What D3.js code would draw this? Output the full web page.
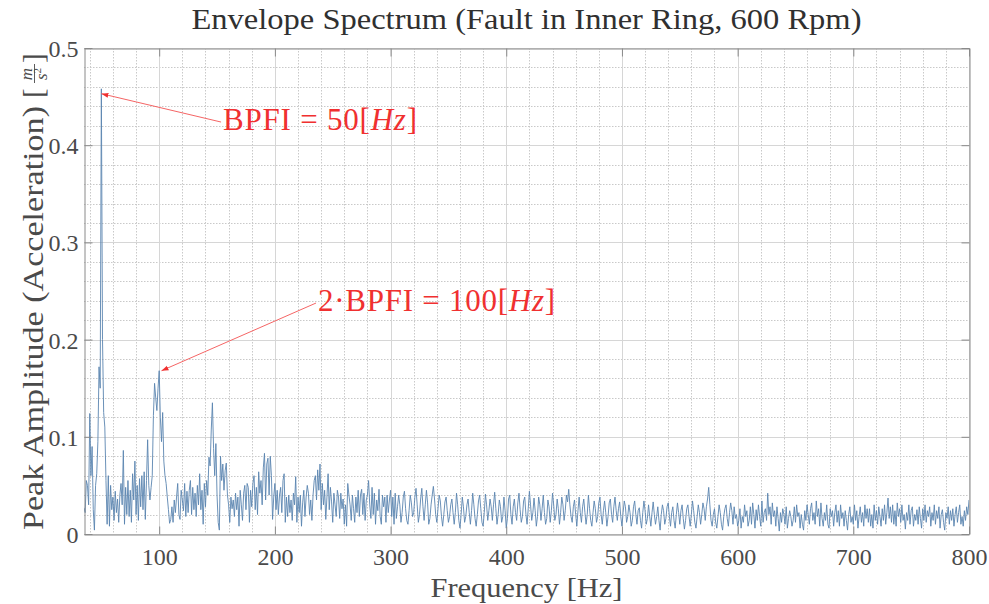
<!DOCTYPE html>
<html><head><meta charset="utf-8">
<script src="https://cdn.jsdelivr.net/npm/d3@7"></script>
<style>body{margin:0;background:#fff} svg{display:block}</style>
</head><body><svg id="c" width="989" height="604"></svg>
<script>
// ---------- data ----------
const title = "Envelope Spectrum (Fault in Inner Ring, 600 Rpm)";
const xLabel = "Frequency [Hz]";
const yLabel = "Peak Amplitude (Acceleration)";
const xTicks = [100, 200, 300, 400, 500, 600, 700, 800];
const xTickLabels = ["100", "200", "300", "400", "500", "600", "700", "800"];
const yTicks = [0, 0.1, 0.2, 0.3, 0.4, 0.5];
const yTickLabels = ["0", "0.1", "0.2", "0.3", "0.4", "0.5"];
const xMinorStep = 20, yMinorStep = 0.02;
const xDomain = [35, 800];
const yDomain = [0, 0.5];
// spectrum: first frequency, spacing (Hz), amplitudes in 1/1000 m/s^2
const freqStart = 35, freqStep = 1;
const amplitudeMilli = [
 27,22,55,50,30,124,60,90,25,4,        // 35
 50,62,95,172,150,458,200,125,110,55,  // 45
 10,60,8,50,25,38,14,44,22,36,         // 55
 12,40,52,30,86,10,48,20,55,18,        // 65
 45,12,62,35,75,20,50,14,57,28,        // 75
 60,25,64,15,55,97,50,35,48,60,        // 85
 122,155,140,127,150,168,120,95,125,75,// 95
 60,52,38,25,11,15,28,12,35,22,        // 105
 38,52,20,15,45,35,24,52,18,44,        // 115
 22,45,55,20,48,25,42,18,50,30,        // 125
 62,25,45,10,52,28,55,40,79,70,        // 135
 107,135,88,60,93,40,12,4,80,55,       // 145
 72,45,65,73,40,30,12,38,26,35,        // 155
 18,42,25,38,8,45,30,14,42,50,         // 165
 25,52,48,12,45,28,52,60,25,48,        // 175
 20,64,42,55,30,68,83,35,72,78,        // 185
 40,80,60,15,38,52,25,45,20,40,        // 195
 48,22,55,62,12,38,18,40,22,35,        // 205
 14,42,30,59,12,38,22,40,8,32,         // 215
 45,18,38,50,42,20,35,14,40,55,        // 225
 60,35,66,45,72,25,52,30,45,15,        // 235
 38,62,25,48,33,12,42,30,18,45,        // 245
 38,16,42,26,36,10,30,8,52,40,         // 255
 30,14,40,26,12,38,22,45,18,40,        // 265
 46,20,42,14,35,40,55,30,16,48,        // 275
 20,42,10,35,24,46,18,10,40,28,        // 285
 38,12,40,22,35,45,18,38,10,42,        // 295
 16,28,40,30,12,22,38,44,26,14,        // 305
 10,24,40,32,18,22,38,47,30,12,        // 315
 20,36,47,28,14,30,45,32,10,16,        // 325
 30,40,49,36,20,12,26,40,34,18,        // 335
 8,20,33,38,24,12,18,30,36,22,         // 345
 10,22,42,30,14,6,20,38,28,12,         // 355
 18,30,36,22,10,24,42,30,16,8,         // 365
 20,34,40,26,12,8,22,41,30,14,         // 375
 24,36,28,14,30,43,26,10,20,35,        // 385
 28,12,18,38,24,6,16,36,40,20,         // 395
 10,28,36,22,14,32,42,25,12,18,        // 405
 34,38,20,10,26,44,30,14,22,37,        // 415
 24,8,18,38,30,14,26,40,22,10,         // 425
 16,35,28,12,24,42,30,14,20,36,        // 435
 26,10,22,38,30,14,24,40,33,46,        // 445
 30,18,12,28,35,20,8,24,38,22,         // 455
 12,28,36,22,10,20,40,26,14,8,         // 465
 22,34,26,12,18,32,38,20,10,24,        // 475
 34,22,8,18,32,36,20,12,28,38,         // 485
 24,14,26,33,18,8,22,34,28,12,         // 495
 18,30,22,8,14,28,34,20,10,24,         // 505
 27,14,6,22,34,24,10,16,30,18,         // 515
 8,22,33,20,10,18,28,14,4,20,          // 525
 30,24,10,16,28,32,18,8,22,28,         // 535
 14,6,20,32,22,10,24,30,16,5,          // 545
 14,26,30,18,8,20,34,24,12,6,          // 555
 18,30,22,10,20,32,26,14,28,36,        // 565
 48,30,14,8,20,26,12,6,18,30,          // 575
 22,10,4,18,26,30,16,8,22,32,          // 585
 24,10,28,16,20,8,14,26,6,18,          // 595
 12,30,18,24,8,14,28,10,32,20,         // 605
 6,25,14,30,18,8,34,12,22,26,          // 615
 14,42,20,28,10,32,18,24,8,28,         // 625
 16,3,22,12,26,20,10,28,6,16,          // 635
 24,18,8,14,28,12,30,18,22,6,          // 645
 20,10,4,24,14,30,20,10,26,32,         // 655
 14,22,10,34,18,26,8,32,16,8,          // 665
 22,14,30,10,6,26,18,24,8,22,          // 675
 30,12,24,8,30,16,22,8,24,14,          // 685
 4,20,28,12,18,10,30,14,24,6,          // 695
 18,28,12,22,8,30,16,26,12,26,         // 705
 8,20,6,30,14,24,10,28,18,8,           // 715
 26,14,30,10,22,37,16,28,12,30,        // 725
 10,24,8,32,18,26,12,30,14,20,         // 735
 5,22,14,30,10,24,28,8,20,14,          // 745
 25,10,28,16,6,26,14,30,12,24,         // 755
 18,28,8,22,14,30,10,24,16,28,         // 765
 6,20,25,12,4,22,16,28,10,24,          // 775
 14,26,8,20,28,12,22,30,10,18,         // 785
 8,24,14,28,20,35                      // 795
];
// annotations: arrow target (freq, amp) and text anchor (freq, amp)
const annFreq = [50, 102];
const annAmp = [0.453, 0.168];
const annTextFreq = [155.2, 237.3];
const annTextAmp = [0.4156, 0.2294];
const annTextPre = ["BPFI = 50", "2\u00B7BPFI = 100"];
const annTextWidth = [194, 237];

// ---------- drawing ----------
const W = 989, H = 604;
const m = {left: 84, right: 20, top: 48, bottom: 70};
const svg = d3.select("#c");
const x = d3.scaleLinear().domain(xDomain).range([m.left, W - m.right]);
const y = d3.scaleLinear().domain(yDomain).range([H - m.bottom, m.top]);
const serif = "'Liberation Serif','DejaVu Serif',serif";
const crisp = v => Math.round(v) + 0.5;

const data = amplitudeMilli.map((v, i) => ({f: freqStart + i * freqStep, a: v / 1000}));

// grid
const xMinor = d3.range(40, 800, xMinorStep).filter(v => v % 100 !== 0);
const yMinor = d3.range(0.02, 0.5, yMinorStep).filter(v => Math.abs(v * 10 - Math.round(v * 10)) > 1e-6);
const grid = svg.append("g");
grid.selectAll(".xmn").data(xMinor).join("line")
  .attr("x1", d => crisp(x(d))).attr("x2", d => crisp(x(d)))
  .attr("y1", y(0.5)).attr("y2", y(0))
  .attr("stroke", "#c9c9c9").attr("stroke-dasharray", "1.5,1.5");
grid.selectAll(".ymn").data(yMinor).join("line")
  .attr("y1", d => crisp(y(d))).attr("y2", d => crisp(y(d)))
  .attr("x1", x(xDomain[0])).attr("x2", x(xDomain[1]))
  .attr("stroke", "#c9c9c9").attr("stroke-dasharray", "1.5,1.5");
grid.selectAll(".xmj").data(xTicks).join("line")
  .attr("x1", d => crisp(x(d))).attr("x2", d => crisp(x(d)))
  .attr("y1", y(0.5)).attr("y2", y(0))
  .attr("stroke", "#d6d6d6");
grid.selectAll(".ymj").data(yTicks).join("line")
  .attr("y1", d => crisp(y(d))).attr("y2", d => crisp(y(d)))
  .attr("x1", x(xDomain[0])).attr("x2", x(xDomain[1]))
  .attr("stroke", "#d6d6d6");

// data line
svg.append("defs").append("clipPath").attr("id", "clip").append("rect")
  .attr("x", x(xDomain[0])).attr("y", y(0.5)).attr("width", x(xDomain[1]) - x(xDomain[0])).attr("height", y(0) - y(0.5));
svg.append("path").datum(data)
  .attr("clip-path", "url(#clip)")
  .attr("fill", "none").attr("stroke", "#5a85b0").attr("stroke-width", 0.9)
  .attr("stroke-linejoin", "round")
  .attr("d", d3.line().x(d => x(d.f)).y(d => y(d.a)));

// axes box
const axisColor = "#8a8a8a";
const gx = svg.append("g").attr("transform", `translate(0,${crisp(y(0))})`)
  .call(d3.axisBottom(x).tickValues(xTicks).tickFormat((d, i) => xTickLabels[i]).tickSizeInner(-8).tickSizeOuter(0).tickPadding(13));
const gxt = svg.append("g").attr("transform", `translate(0,${crisp(y(0.5))})`)
  .call(d3.axisTop(x).tickValues(xTicks).tickFormat("").tickSizeInner(-8).tickSizeOuter(0));
const gy = svg.append("g").attr("transform", `translate(${crisp(x(xDomain[0]))},0)`)
  .call(d3.axisLeft(y).tickValues(yTicks).tickFormat((d, i) => yTickLabels[i]).tickSizeInner(-8).tickSizeOuter(0).tickPadding(6));
const gyr = svg.append("g").attr("transform", `translate(${crisp(x(xDomain[1]))},0)`)
  .call(d3.axisRight(y).tickValues(yTicks).tickFormat("").tickSizeInner(-8).tickSizeOuter(0));
[gx, gxt, gy, gyr].forEach(g => {
  g.select(".domain").attr("stroke", axisColor);
  g.selectAll(".tick line").attr("stroke", axisColor);
  g.selectAll(".tick text").attr("fill", "#4a4a4a").attr("font-family", serif).attr("font-size", 24);
});
gy.selectAll(".tick text").attr("dy", "0.35em");

// title
svg.append("text").attr("x", (x(xDomain[0]) + x(xDomain[1])) / 2).attr("y", 29)
  .attr("text-anchor", "middle").attr("font-family", serif).attr("font-size", 29)
  .attr("fill", "#303030").attr("textLength", 670).attr("lengthAdjust", "spacingAndGlyphs")
  .text(title);

// x label
svg.append("text").attr("x", (x(xDomain[0]) + x(xDomain[1])) / 2).attr("y", 597)
  .attr("text-anchor", "middle").attr("font-family", serif).attr("font-size", 28)
  .attr("fill", "#4a4a4a").attr("textLength", 192).attr("lengthAdjust", "spacingAndGlyphs")
  .text(xLabel);

// y label (rotated) with [m / s^2]
const yl = svg.append("g").attr("transform", "translate(43,0) rotate(-90)").attr("fill", "#4a4a4a").attr("font-family", serif);
yl.append("text").attr("x", -530).attr("y", 0).attr("font-size", 29)
  .attr("textLength", 424).attr("lengthAdjust", "spacingAndGlyphs").text(yLabel);
yl.append("text").attr("x", -98).attr("y", 0).attr("font-size", 29).text("[");
yl.append("text").attr("x", -74).attr("y", -11).attr("font-size", 17).attr("font-style", "italic").attr("text-anchor", "middle").text("m");
yl.append("line").attr("x1", -83).attr("x2", -64).attr("y1", -8.5).attr("y2", -8.5).attr("stroke", "#4a4a4a").attr("stroke-width", 0.9);
const s2 = yl.append("text").attr("x", -74).attr("y", 4).attr("font-size", 17).attr("font-style", "italic").attr("text-anchor", "middle");
s2.append("tspan").text("s");
s2.append("tspan").attr("font-size", 11).attr("font-style", "normal").attr("dy", -6).text("2");
yl.append("text").attr("x", -63).attr("y", 0).attr("font-size", 29).text("]");

// annotations
const red = "#f03030";
const defs = svg.select("defs");
defs.append("marker").attr("id", "ah").attr("viewBox", "0 0 10 10").attr("refX", 10).attr("refY", 5)
  .attr("markerWidth", 7).attr("markerHeight", 7).attr("orient", "auto-start-reverse")
  .append("path").attr("d", "M0,1.5 L10,5 L0,8.5 Z").attr("fill", red);
annFreq.forEach((f, i) => {
  const tx = x(annTextFreq[i]), ty = y(annTextAmp[i]);
  svg.append("line")
    .attr("x1", tx - 2).attr("y1", ty - 8)
    .attr("x2", x(f)).attr("y2", y(annAmp[i]))
    .attr("stroke", "#f56565").attr("stroke-width", 1).attr("marker-end", "url(#ah)");
  const t = svg.append("text").attr("x", tx).attr("y", ty).attr("font-family", serif)
    .attr("font-size", 31).attr("fill", red)
    .attr("textLength", annTextWidth[i]).attr("lengthAdjust", "spacing");
  t.append("tspan").text(annTextPre[i]);
  t.append("tspan").text("[");
  t.append("tspan").attr("font-style", "italic").text("Hz");
  t.append("tspan").text("]");
});
</script></body></html>
